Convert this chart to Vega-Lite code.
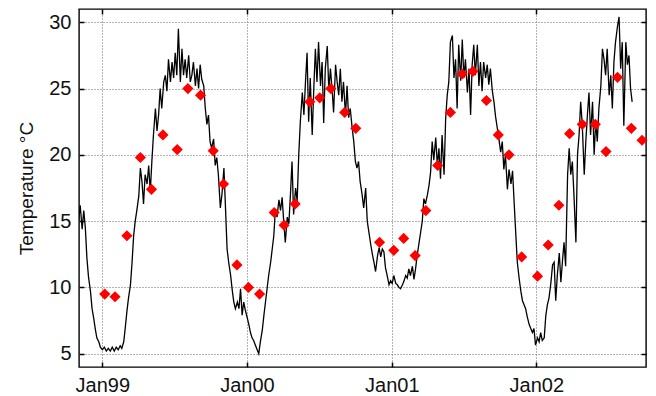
{
  "$schema": "https://vega.github.io/schema/vega-lite/v6.json",
  "width": 567,
  "height": 358,
  "autosize": "none",
  "padding": {"left": 79, "top": 9, "right": 10, "bottom": 29},
  "background": "white",
  "config": {
    "font": "Liberation Sans",
    "view": {"stroke": "#000", "strokeWidth": 1.4},
    "axis": {
      "labelFont": "Liberation Sans",
      "titleFont": "Liberation Sans",
      "labelFontSize": 20,
      "titleFontSize": 19,
      "titleFontWeight": "normal",
      "labelColor": "#111",
      "titleColor": "#111",
      "domain": false,
      "ticks": true,
      "tickColor": "#000",
      "tickSize": -5,
      "tickWidth": 1.5,
      "gridColor": "#666",
      "gridDash": [1, 2],
      "gridWidth": 1
    }
  },
  "datasets": {
    "daily": [
      {"date":"1998-11-02","temp":15.0},{"date":"1998-11-06","temp":16.2},{"date":"1998-11-11","temp":14.4},{"date":"1998-11-15","temp":15.8},
      {"date":"1998-11-19","temp":14.5},{"date":"1998-11-23","temp":12.2},{"date":"1998-11-27","temp":10.8},{"date":"1998-12-02","temp":9.7},
      {"date":"1998-12-06","temp":8.4},{"date":"1998-12-10","temp":7.7},{"date":"1998-12-14","temp":6.9},{"date":"1998-12-18","temp":6.2},
      {"date":"1998-12-23","temp":5.9},{"date":"1998-12-27","temp":5.5},{"date":"1999-01-01","temp":5.3},{"date":"1999-01-06","temp":5.5},
      {"date":"1999-01-11","temp":5.2},{"date":"1999-01-16","temp":5.4},{"date":"1999-01-21","temp":5.2},{"date":"1999-01-26","temp":5.5},
      {"date":"1999-01-31","temp":5.2},{"date":"1999-02-05","temp":5.5},{"date":"1999-02-10","temp":5.3},{"date":"1999-02-15","temp":5.6},
      {"date":"1999-02-19","temp":5.4},{"date":"1999-02-24","temp":5.9},{"date":"1999-02-28","temp":7.0},{"date":"1999-03-04","temp":8.2},
      {"date":"1999-03-08","temp":9.2},{"date":"1999-03-13","temp":10.2},{"date":"1999-03-17","temp":11.9},{"date":"1999-03-21","temp":13.9},
      {"date":"1999-03-25","temp":15.0},{"date":"1999-03-29","temp":15.8},{"date":"1999-04-03","temp":16.9},{"date":"1999-04-07","temp":19.0},
      {"date":"1999-04-11","temp":18.0},{"date":"1999-04-15","temp":16.3},{"date":"1999-04-19","temp":18.5},{"date":"1999-04-24","temp":17.8},
      {"date":"1999-04-28","temp":19.2},{"date":"1999-05-02","temp":17.2},{"date":"1999-05-06","temp":19.5},{"date":"1999-05-10","temp":21.5},
      {"date":"1999-05-15","temp":23.5},{"date":"1999-05-19","temp":21.8},{"date":"1999-05-23","temp":23.0},{"date":"1999-05-27","temp":25.0},
      {"date":"1999-05-31","temp":23.5},{"date":"1999-06-05","temp":25.5},{"date":"1999-06-09","temp":26.0},{"date":"1999-06-13","temp":24.8},
      {"date":"1999-06-17","temp":27.2},{"date":"1999-06-22","temp":25.5},{"date":"1999-06-26","temp":27.0},{"date":"1999-06-30","temp":25.8},
      {"date":"1999-07-04","temp":27.7},{"date":"1999-07-08","temp":26.0},{"date":"1999-07-12","temp":29.5},{"date":"1999-07-17","temp":25.5},
      {"date":"1999-07-21","temp":28.0},{"date":"1999-07-25","temp":26.0},{"date":"1999-07-29","temp":27.2},{"date":"1999-08-02","temp":25.8},
      {"date":"1999-08-07","temp":27.5},{"date":"1999-08-11","temp":25.5},{"date":"1999-08-15","temp":26.0},{"date":"1999-08-19","temp":27.0},
      {"date":"1999-08-24","temp":25.2},{"date":"1999-08-28","temp":26.5},{"date":"1999-09-01","temp":25.0},{"date":"1999-09-05","temp":26.8},
      {"date":"1999-09-09","temp":25.7},{"date":"1999-09-14","temp":25.2},{"date":"1999-09-18","temp":23.5},{"date":"1999-09-22","temp":22.3},
      {"date":"1999-09-26","temp":23.0},{"date":"1999-09-30","temp":21.0},{"date":"1999-10-04","temp":20.5},{"date":"1999-10-09","temp":21.2},
      {"date":"1999-10-13","temp":19.2},{"date":"1999-10-17","temp":19.8},{"date":"1999-10-21","temp":18.5},{"date":"1999-10-26","temp":16.0},
      {"date":"1999-10-30","temp":17.0},{"date":"1999-11-04","temp":19.0},{"date":"1999-11-08","temp":16.0},{"date":"1999-11-12","temp":12.9},
      {"date":"1999-11-16","temp":11.9},{"date":"1999-11-21","temp":10.9},{"date":"1999-11-25","temp":9.8},{"date":"1999-11-29","temp":8.9},
      {"date":"1999-12-03","temp":8.4},{"date":"1999-12-08","temp":8.9},{"date":"1999-12-12","temp":8.4},{"date":"1999-12-16","temp":9.9},
      {"date":"1999-12-20","temp":7.9},{"date":"1999-12-24","temp":8.9},{"date":"1999-12-28","temp":8.3},{"date":"2000-01-02","temp":7.7},
      {"date":"2000-01-06","temp":7.2},{"date":"2000-01-10","temp":6.6},{"date":"2000-01-14","temp":6.2},{"date":"2000-01-18","temp":6.0},
      {"date":"2000-01-23","temp":5.6},{"date":"2000-01-27","temp":5.3},{"date":"2000-01-31","temp":5.0},{"date":"2000-02-04","temp":5.9},
      {"date":"2000-02-09","temp":6.8},{"date":"2000-02-13","temp":7.9},{"date":"2000-02-17","temp":8.9},{"date":"2000-02-21","temp":9.9},
      {"date":"2000-02-25","temp":10.9},{"date":"2000-03-01","temp":11.9},{"date":"2000-03-05","temp":12.9},{"date":"2000-03-09","temp":13.9},
      {"date":"2000-03-13","temp":15.9},{"date":"2000-03-17","temp":15.3},{"date":"2000-03-22","temp":16.6},{"date":"2000-03-26","temp":15.8},
      {"date":"2000-03-30","temp":16.8},{"date":"2000-04-03","temp":15.0},{"date":"2000-04-07","temp":13.4},{"date":"2000-04-12","temp":15.3},
      {"date":"2000-04-16","temp":14.8},{"date":"2000-04-20","temp":17.0},{"date":"2000-04-24","temp":19.5},{"date":"2000-04-28","temp":15.5},
      {"date":"2000-05-03","temp":17.5},{"date":"2000-05-07","temp":16.5},{"date":"2000-05-11","temp":20.0},{"date":"2000-05-15","temp":22.5},
      {"date":"2000-05-20","temp":24.7},{"date":"2000-05-24","temp":23.0},{"date":"2000-05-28","temp":25.5},{"date":"2000-06-01","temp":27.7},
      {"date":"2000-06-05","temp":22.5},{"date":"2000-06-09","temp":25.8},{"date":"2000-06-14","temp":21.5},{"date":"2000-06-18","temp":25.0},
      {"date":"2000-06-22","temp":28.0},{"date":"2000-06-26","temp":25.5},{"date":"2000-06-30","temp":28.5},{"date":"2000-07-05","temp":25.2},
      {"date":"2000-07-09","temp":27.0},{"date":"2000-07-13","temp":22.4},{"date":"2000-07-17","temp":26.5},{"date":"2000-07-22","temp":28.2},
      {"date":"2000-07-26","temp":24.8},{"date":"2000-07-30","temp":26.5},{"date":"2000-08-03","temp":25.0},{"date":"2000-08-07","temp":23.2},
      {"date":"2000-08-12","temp":26.8},{"date":"2000-08-16","temp":25.5},{"date":"2000-08-20","temp":24.5},{"date":"2000-08-24","temp":26.5},
      {"date":"2000-08-28","temp":24.0},{"date":"2000-09-01","temp":25.5},{"date":"2000-09-06","temp":23.0},{"date":"2000-09-10","temp":25.2},
      {"date":"2000-09-14","temp":22.8},{"date":"2000-09-18","temp":23.5},{"date":"2000-09-23","temp":22.0},{"date":"2000-09-27","temp":21.0},
      {"date":"2000-10-01","temp":19.5},{"date":"2000-10-05","temp":19.0},{"date":"2000-10-09","temp":19.5},{"date":"2000-10-13","temp":18.0},
      {"date":"2000-10-18","temp":17.0},{"date":"2000-10-22","temp":16.0},{"date":"2000-10-27","temp":17.5},{"date":"2000-10-31","temp":15.0},
      {"date":"2000-11-05","temp":14.0},{"date":"2000-11-09","temp":13.2},{"date":"2000-11-13","temp":12.5},{"date":"2000-11-17","temp":11.9},
      {"date":"2000-11-21","temp":11.2},{"date":"2000-11-26","temp":12.4},{"date":"2000-11-30","temp":13.0},{"date":"2000-12-04","temp":12.3},
      {"date":"2000-12-08","temp":12.9},{"date":"2000-12-12","temp":12.7},{"date":"2000-12-16","temp":11.5},{"date":"2000-12-21","temp":10.8},
      {"date":"2000-12-25","temp":10.2},{"date":"2000-12-29","temp":10.5},{"date":"2001-01-02","temp":10.3},{"date":"2001-01-06","temp":10.9},
      {"date":"2001-01-11","temp":10.3},{"date":"2001-01-15","temp":10.2},{"date":"2001-01-19","temp":10.0},{"date":"2001-01-23","temp":9.9},
      {"date":"2001-01-28","temp":10.2},{"date":"2001-02-01","temp":10.5},{"date":"2001-02-05","temp":10.9},{"date":"2001-02-09","temp":10.7},
      {"date":"2001-02-13","temp":11.4},{"date":"2001-02-17","temp":10.9},{"date":"2001-02-22","temp":11.6},{"date":"2001-02-26","temp":10.6},
      {"date":"2001-03-02","temp":11.4},{"date":"2001-03-06","temp":12.4},{"date":"2001-03-11","temp":13.4},{"date":"2001-03-15","temp":14.2},
      {"date":"2001-03-19","temp":15.0},{"date":"2001-03-23","temp":16.7},{"date":"2001-03-27","temp":16.3},{"date":"2001-04-01","temp":17.0},
      {"date":"2001-04-05","temp":17.7},{"date":"2001-04-09","temp":18.7},{"date":"2001-04-13","temp":21.0},{"date":"2001-04-17","temp":19.6},
      {"date":"2001-04-22","temp":21.3},{"date":"2001-04-26","temp":19.2},{"date":"2001-04-30","temp":20.5},{"date":"2001-05-04","temp":18.2},
      {"date":"2001-05-08","temp":21.5},{"date":"2001-05-13","temp":18.5},{"date":"2001-05-17","temp":22.7},{"date":"2001-05-21","temp":24.5},
      {"date":"2001-05-25","temp":25.5},{"date":"2001-05-29","temp":28.5},{"date":"2001-06-03","temp":29.0},{"date":"2001-06-07","temp":25.8},
      {"date":"2001-06-11","temp":27.2},{"date":"2001-06-15","temp":23.5},{"date":"2001-06-19","temp":28.3},{"date":"2001-06-24","temp":25.6},
      {"date":"2001-06-28","temp":28.7},{"date":"2001-07-02","temp":25.8},{"date":"2001-07-06","temp":27.2},{"date":"2001-07-11","temp":24.7},
      {"date":"2001-07-15","temp":26.5},{"date":"2001-07-19","temp":23.0},{"date":"2001-07-23","temp":26.8},{"date":"2001-07-27","temp":28.3},
      {"date":"2001-07-31","temp":26.0},{"date":"2001-08-05","temp":28.3},{"date":"2001-08-09","temp":25.2},{"date":"2001-08-13","temp":27.0},
      {"date":"2001-08-17","temp":24.8},{"date":"2001-08-21","temp":27.0},{"date":"2001-08-26","temp":25.8},{"date":"2001-08-30","temp":26.8},
      {"date":"2001-09-03","temp":25.3},{"date":"2001-09-07","temp":26.5},{"date":"2001-09-12","temp":24.8},{"date":"2001-09-16","temp":24.0},
      {"date":"2001-09-20","temp":22.9},{"date":"2001-09-24","temp":22.1},{"date":"2001-09-28","temp":21.3},{"date":"2001-10-03","temp":20.2},
      {"date":"2001-10-07","temp":21.0},{"date":"2001-10-11","temp":18.9},{"date":"2001-10-15","temp":20.0},{"date":"2001-10-20","temp":17.4},
      {"date":"2001-10-24","temp":18.9},{"date":"2001-10-29","temp":17.8},{"date":"2001-11-02","temp":18.8},{"date":"2001-11-06","temp":16.4},
      {"date":"2001-11-10","temp":14.1},{"date":"2001-11-14","temp":11.9},{"date":"2001-11-19","temp":10.6},{"date":"2001-11-23","temp":9.7},
      {"date":"2001-11-27","temp":9.0},{"date":"2001-12-01","temp":8.7},{"date":"2001-12-05","temp":8.4},{"date":"2001-12-09","temp":7.8},
      {"date":"2001-12-14","temp":7.2},{"date":"2001-12-18","temp":6.9},{"date":"2001-12-22","temp":6.6},{"date":"2001-12-26","temp":6.9},
      {"date":"2001-12-30","temp":5.65},{"date":"2002-01-04","temp":6.2},{"date":"2002-01-08","temp":5.9},{"date":"2002-01-12","temp":6.6},
      {"date":"2002-01-16","temp":6.0},{"date":"2002-01-21","temp":6.2},{"date":"2002-01-25","temp":7.9},{"date":"2002-01-29","temp":8.7},
      {"date":"2002-02-02","temp":9.2},{"date":"2002-02-07","temp":10.4},{"date":"2002-02-11","temp":11.7},{"date":"2002-02-15","temp":11.9},
      {"date":"2002-02-19","temp":9.0},{"date":"2002-02-23","temp":10.9},{"date":"2002-02-28","temp":12.6},{"date":"2002-03-04","temp":10.4},
      {"date":"2002-03-08","temp":12.0},{"date":"2002-03-12","temp":13.4},{"date":"2002-03-16","temp":11.6},{"date":"2002-03-21","temp":18.5},
      {"date":"2002-03-25","temp":20.5},{"date":"2002-03-29","temp":18.5},{"date":"2002-04-02","temp":19.5},{"date":"2002-04-06","temp":17.0},
      {"date":"2002-04-11","temp":13.4},{"date":"2002-04-15","temp":20.0},{"date":"2002-04-19","temp":21.5},{"date":"2002-04-23","temp":24.0},
      {"date":"2002-04-27","temp":22.3},{"date":"2002-05-02","temp":18.5},{"date":"2002-05-06","temp":21.0},{"date":"2002-05-10","temp":23.0},
      {"date":"2002-05-14","temp":24.7},{"date":"2002-05-18","temp":21.5},{"date":"2002-05-23","temp":24.0},{"date":"2002-05-27","temp":20.0},
      {"date":"2002-05-31","temp":22.5},{"date":"2002-06-04","temp":21.0},{"date":"2002-06-08","temp":23.5},{"date":"2002-06-13","temp":25.2},
      {"date":"2002-06-17","temp":28.0},{"date":"2002-06-21","temp":27.2},{"date":"2002-06-25","temp":26.0},{"date":"2002-06-29","temp":28.0},
      {"date":"2002-07-04","temp":24.5},{"date":"2002-07-08","temp":26.0},{"date":"2002-07-12","temp":23.5},{"date":"2002-07-16","temp":27.0},
      {"date":"2002-07-20","temp":28.5},{"date":"2002-07-25","temp":29.7},{"date":"2002-07-29","temp":30.4},{"date":"2002-08-02","temp":26.5},
      {"date":"2002-08-06","temp":28.5},{"date":"2002-08-10","temp":22.2},{"date":"2002-08-15","temp":28.5},{"date":"2002-08-19","temp":26.8},
      {"date":"2002-08-23","temp":27.5},{"date":"2002-08-27","temp":25.0},{"date":"2002-08-31","temp":24.0}
    ],
    "monthly": [
      {"date":"1999-01-07","temp":9.5},{"date":"1999-02-02","temp":9.3},{"date":"1999-03-04","temp":13.9},{"date":"1999-04-07","temp":19.8},
      {"date":"1999-05-05","temp":17.4},{"date":"1999-06-03","temp":21.5},{"date":"1999-07-09","temp":20.4},{"date":"1999-08-05","temp":25.0},
      {"date":"1999-09-06","temp":24.5},{"date":"1999-10-08","temp":20.3},{"date":"1999-11-03","temp":17.8},{"date":"1999-12-07","temp":11.7},
      {"date":"2000-01-05","temp":10.0},{"date":"2000-02-02","temp":9.5},{"date":"2000-03-10","temp":15.65},{"date":"2000-04-04","temp":14.7},
      {"date":"2000-05-02","temp":16.3},{"date":"2000-06-08","temp":24.0},{"date":"2000-07-03","temp":24.3},{"date":"2000-07-31","temp":25.0},
      {"date":"2000-09-04","temp":23.2},{"date":"2000-10-02","temp":22.0},{"date":"2000-12-01","temp":13.4},{"date":"2001-01-06","temp":12.8},
      {"date":"2001-01-31","temp":13.7},{"date":"2001-03-01","temp":12.4},{"date":"2001-03-28","temp":15.8},{"date":"2001-04-27","temp":19.2},
      {"date":"2001-05-29","temp":23.2},{"date":"2001-06-28","temp":26.1},{"date":"2001-07-25","temp":26.3},{"date":"2001-08-28","temp":24.1},
      {"date":"2001-09-27","temp":21.5},{"date":"2001-10-24","temp":20.0},{"date":"2001-11-25","temp":12.3},{"date":"2002-01-04","temp":10.85},
      {"date":"2002-01-31","temp":13.2},{"date":"2002-02-27","temp":16.2},{"date":"2002-03-26","temp":21.6},{"date":"2002-04-27","temp":22.3},
      {"date":"2002-05-30","temp":22.3},{"date":"2002-06-26","temp":20.25},{"date":"2002-07-25","temp":25.85},{"date":"2002-08-29","temp":22.0},
      {"date":"2002-09-25","temp":21.1}
    ]
  },
  "layer": [
    {
      "data": {"name": "daily"},
      "mark": {"type": "line", "color": "#000", "strokeWidth": 1.3, "clip": true},
      "encoding": {
        "x": {
          "field": "date", "type": "temporal",
          "scale": {"type": "utc", "domain": [{"year": 1998, "month": 11, "date": 3, "utc": true}, {"year": 2002, "month": 10, "date": 5, "utc": true}]},
          "axis": {"orient": "bottom", "title": null, "format": "%b%y", "grid": true, "tickSize": -5, "labelPadding": 13,
            "values": [{"year": 1999, "month": 1, "date": 1, "utc": true}, {"year": 2000, "month": 1, "date": 1, "utc": true}, {"year": 2001, "month": 1, "date": 1, "utc": true}, {"year": 2002, "month": 1, "date": 1, "utc": true}]}
        },
        "y": {
          "field": "temp", "type": "quantitative",
          "scale": {"domain": [4, 31], "nice": false, "zero": false},
          "axis": {"orient": "left", "title": "Temperature °C", "values": [5, 10, 15, 20, 25, 30], "grid": true, "tickSize": -5, "labelPadding": 13, "titlePadding": 12}
        }
      }
    },
    {
      "data": {"name": "monthly"},
      "mark": {"type": "point", "shape": "diamond", "filled": true, "color": "#ff0000", "size": 125, "opacity": 1, "strokeWidth": 0},
      "encoding": {
        "x": {
          "field": "date", "type": "temporal",
          "axis": {"orient": "top", "title": null, "labels": false, "grid": false, "tickSize": -5,
            "values": [{"year": 1999, "month": 1, "date": 1, "utc": true}, {"year": 2000, "month": 1, "date": 1, "utc": true}, {"year": 2001, "month": 1, "date": 1, "utc": true}, {"year": 2002, "month": 1, "date": 1, "utc": true}]}
        },
        "y": {
          "field": "temp", "type": "quantitative",
          "axis": {"orient": "right", "title": null, "labels": false, "grid": false, "tickSize": -5, "values": [5, 10, 15, 20, 25, 30]}
        }
      }
    }
  ],
  "resolve": {"axis": {"x": "independent", "y": "independent"}}
}
